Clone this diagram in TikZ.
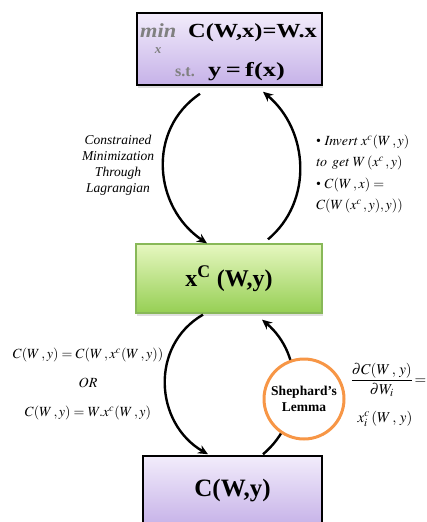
\documentclass[tikz,border=0pt]{standalone}
\usepackage{amsmath}
\usepackage{mathptmx}
\usepackage{fontspec}
\setmainfont{Liberation Serif}
\usepackage{graphicx}
\usetikzlibrary{positioning,arrows.meta,shadows}
\definecolor{lavtop}{RGB}{242,236,251}
\definecolor{lavbot}{RGB}{198,178,232}
\definecolor{grntop}{RGB}{230,247,192}
\definecolor{grnbot}{RGB}{150,207,84}
\definecolor{grnline}{RGB}{136,184,88}
\definecolor{shepor}{RGB}{247,150,70}
\definecolor{mingray}{RGB}{128,128,128}
\tikzset{
  pbox/.style={draw=black,line width=1.5pt,top color=lavtop,bottom color=lavbot,minimum width=185pt,minimum height=72pt,
    drop shadow={opacity=0.25,shadow xshift=1pt,shadow yshift=-2.5pt}},
  gbox/.style={draw=grnline,line width=1.3pt,top color=grntop,bottom color=grnbot,minimum width=186pt,minimum height=69pt,
    drop shadow={opacity=0.25,shadow xshift=1pt,shadow yshift=-2.5pt},font=\bfseries\fontsize{24}{24}\selectfont},
  arr/.style={-{Stealth[length=10pt,width=9pt]},line width=2.4pt},
  lbl/.style={font=\itshape\fontsize{13.5}{16}\selectfont,align=center,inner sep=0pt},
  eqn/.style={font=\fontsize{14}{14}\selectfont,inner sep=0pt},
  big/.style={font=\bfseries\fontsize{20}{20}\selectfont,inner sep=0pt,anchor=base west},
}

\begin{document}
\begin{tikzpicture}[x=1pt,y=1pt]
  \useasboundingbox (0,0) rectangle (427,-522);
  % boxes
  \node[pbox] (obj) at (229.5,-49) {};
  \node[gbox] (xc) at (229,-278.5) {x\textsuperscript{C} (W,y)};
  \node[pbox,minimum width=179pt,minimum height=70pt,font=\bfseries\fontsize{25}{25}\selectfont] (cost) at (232.5,-491) {C(W,y)};
  % objective text
  \node[big,text=mingray,font=\bfseries\itshape\fontsize{20}{20}\selectfont] (minw) at (140,-37) {\scalebox{1.12}[1]{min}};
  \node[inner sep=0pt,text=mingray,font=\bfseries\itshape\fontsize{13}{13}\selectfont] (minx) at (158,-51) {x};
  \node[big] (objf) at (188,-37) {\scalebox{1.22}[1]{C(W,x)=W.x}};
  \node[big,text=mingray,font=\bfseries\fontsize{16}{16}\selectfont] (st) at (175,-76) {s.t.};
  \node[big] (cons) at (208,-76) {\scalebox{1.32}[1]{y\thinspace=\thinspace f(x)}};
  % arcs
  \draw[arr] ([xshift=-29.5pt,yshift=-8pt]obj.south) to[out=214,in=146,looseness=1.1] ([xshift=-22pt]xc.north);
  \draw[arr] ([xshift=39pt,yshift=4pt]xc.north) to[out=40,in=-40,looseness=1.03] ([xshift=33.5pt,yshift=-6pt]obj.south);
  \draw[arr] ([xshift=-26pt,yshift=-1pt]xc.south) to[out=210,in=150,looseness=1.13] ([xshift=-24.5pt,yshift=1pt]cost.north);
  \draw[arr] ([xshift=30.5pt,yshift=1pt]cost.north) to[out=40,in=-40,looseness=1.03] ([xshift=33pt,yshift=-6pt]xc.south);
  % labels
  \node[lbl] (lag) at (118,-165) {Constrained\\Minimization\\Through\\Lagrangian};
  \node[eqn,anchor=west,align=left,font=\fontsize{14}{21.5}\selectfont] (inv) at (316,-174) {%
    \textbullet\ $\mathit{Invert}\ x^{c}(W\,,y)$\\
    $\mathit{to\ \,get}\ W\,(x^{c}\,,y)$\\
    \textbullet\ $C(W\,,x)=$\\
    $C(W\,(x^{c}\,,y),y))$};
  \node[eqn,align=center,font=\fontsize{14}{29}\selectfont] (costeq) at (88,-384) {%
    $C(W\,,y)=C(W\,,x^{c}(W\,,y))$\\
    $\mathit{OR}$\\
    $C(W\,,y)=W.x^{c}(W\,,y)$};
  \node[circle,draw=shepor,line width=3pt,fill=white,minimum size=80pt,inner sep=0pt,align=center,
    font=\bfseries\fontsize{13.5}{16}\selectfont] (shep) at (304,-399) {Shephard’s\\Lemma};
  \node[eqn,font=\fontsize{15}{15}\selectfont] (shepeq) at (388.5,-380) {$\dfrac{\partial C(W\,,\,y)}{\partial W_{i}}\!=$};
  \node[eqn,font=\fontsize{15}{15}\selectfont] (shepx) at (385,-419) {$x_{i}^{c}\,(W\,,\,y)$};
\end{tikzpicture}
\end{document}
